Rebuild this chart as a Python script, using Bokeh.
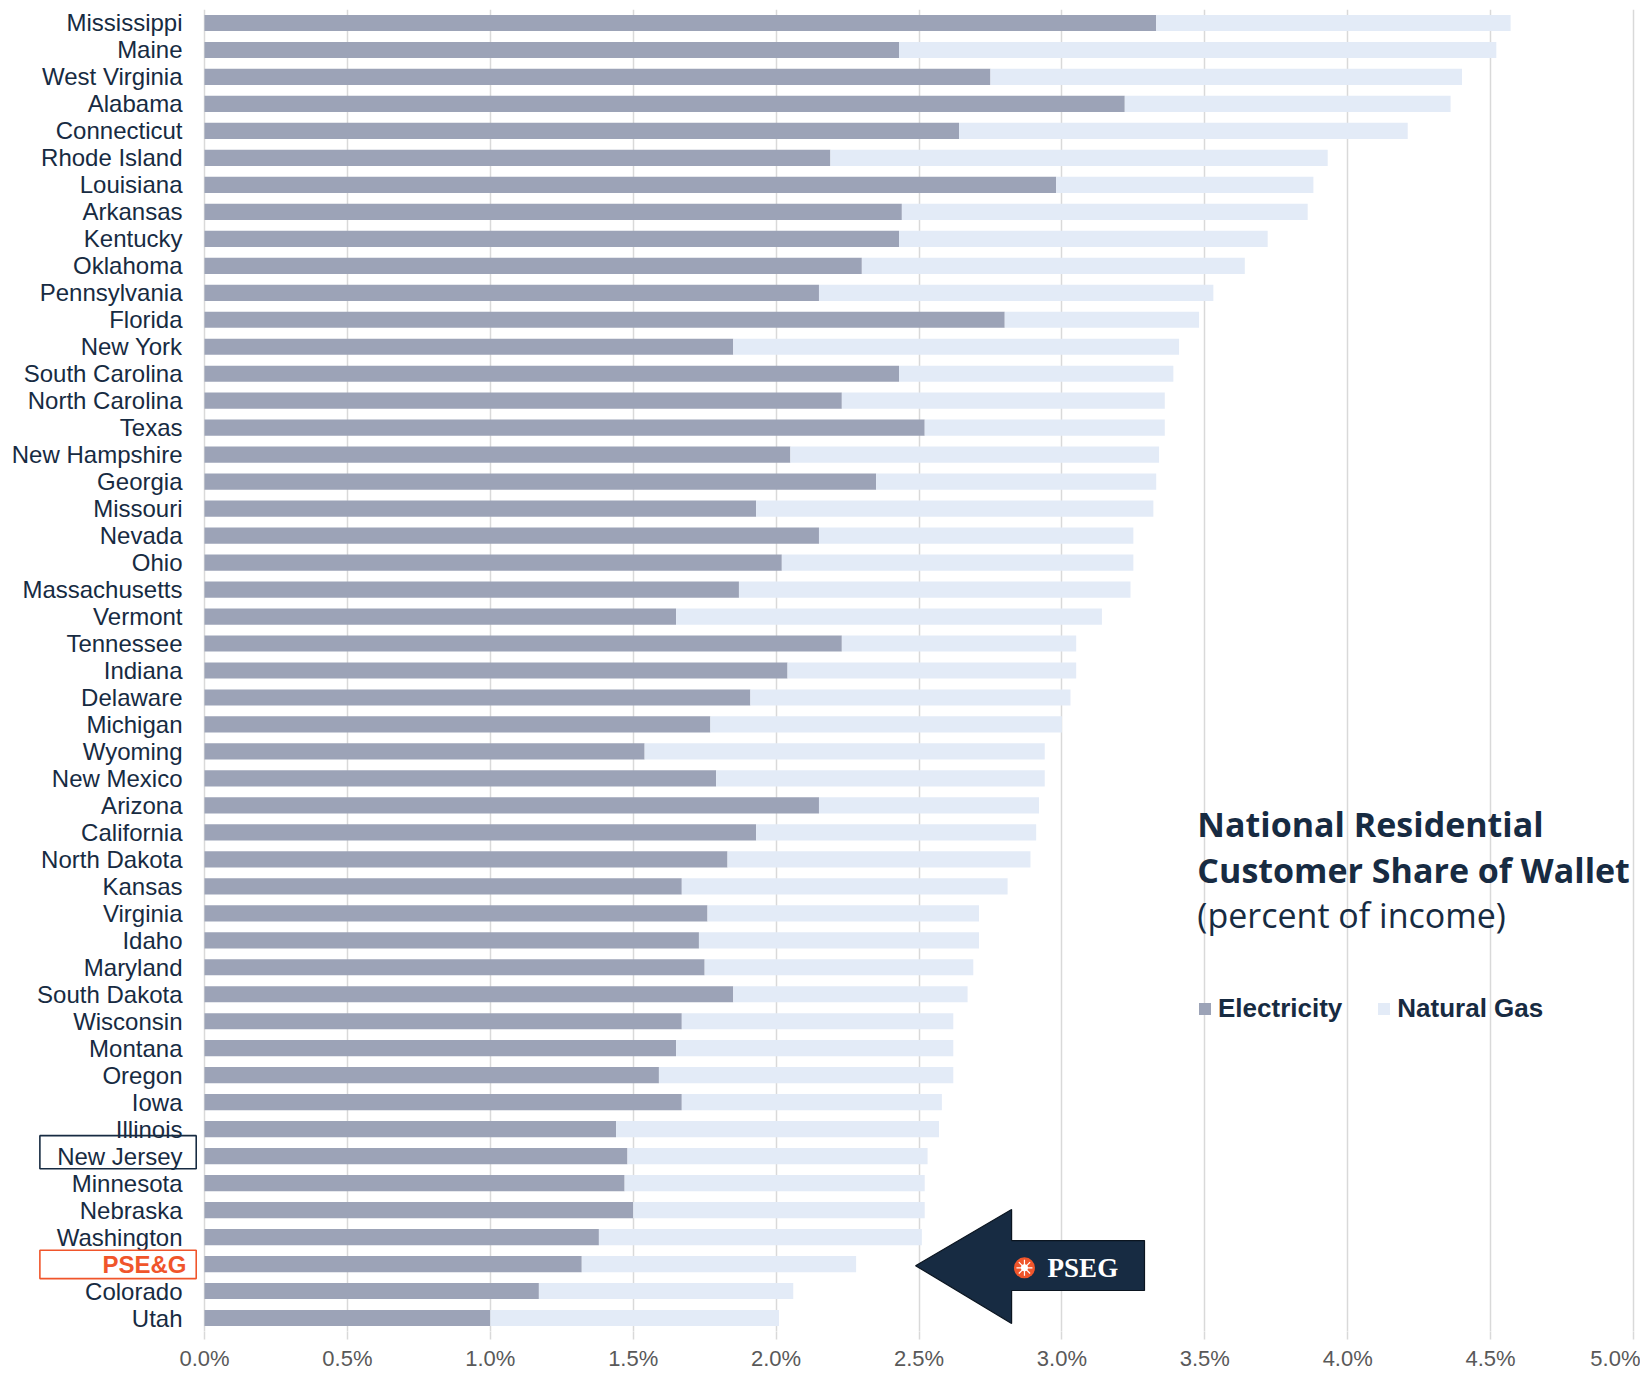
from bokeh.plotting import figure
from bokeh.models import (FactorRange, Range1d, FixedTicker, PrintfTickFormatter,
                          Legend, LegendItem, Label, BoxAnnotation, PolyAnnotation, ColumnDataSource)
from bokeh.core.properties import value
from bokeh.embed import file_html
from bokeh.resources import INLINE

# ---------------- data (percent of income) ----------------
states = ["Mississippi", "Maine", "West Virginia", "Alabama", "Connecticut", "Rhode Island",
          "Louisiana", "Arkansas", "Kentucky", "Oklahoma", "Pennsylvania", "Florida",
          "New York", "South Carolina", "North Carolina", "Texas", "New Hampshire", "Georgia",
          "Missouri", "Nevada", "Ohio", "Massachusetts", "Vermont", "Tennessee", "Indiana",
          "Delaware", "Michigan", "Wyoming", "New Mexico", "Arizona", "California",
          "North Dakota", "Kansas", "Virginia", "Idaho", "Maryland", "South Dakota",
          "Wisconsin", "Montana", "Oregon", "Iowa", "Illinois", "New Jersey", "Minnesota",
          "Nebraska", "Washington", "PSE&G", "Colorado", "Utah"]

electricity = [3.33, 2.43, 2.75, 3.22, 2.64, 2.19, 2.98, 2.44, 2.43, 2.30, 2.15, 2.80,
               1.85, 2.43, 2.23, 2.52, 2.05, 2.35, 1.93, 2.15, 2.02, 1.87, 1.65, 2.23, 2.04,
               1.91, 1.77, 1.54, 1.79, 2.15, 1.93, 1.83, 1.67, 1.76, 1.73, 1.75, 1.85,
               1.67, 1.65, 1.59, 1.67, 1.44, 1.48, 1.47, 1.50, 1.38, 1.32, 1.17, 1.00]

natural_gas = [1.24, 2.09, 1.65, 1.14, 1.57, 1.74, 0.90, 1.42, 1.29, 1.34, 1.38, 0.68,
               1.56, 0.96, 1.13, 0.84, 1.29, 0.98, 1.39, 1.10, 1.23, 1.37, 1.49, 0.82, 1.01,
               1.12, 1.23, 1.40, 1.15, 0.77, 0.98, 1.06, 1.14, 0.95, 0.98, 0.94, 0.82,
               0.95, 0.97, 1.03, 0.91, 1.13, 1.05, 1.05, 1.02, 1.13, 0.96, 0.89, 1.01]

x_ticks = [0.0, 0.5, 1.0, 1.5, 2.0, 2.5, 3.0, 3.5, 4.0, 4.5, 5.0]
series_names = ["Electricity", "Natural Gas"]
highlight = "PSE&G"
boxed = "New Jersey"

# ---------------- styles ----------------
NAVY = "#172B42"
ELEC = "#9CA3B7"
GAS = "#E3EBF7"
ORANGE = "#F0552B"
GRID = "#D9D9D9"

label_color = [ORANGE if s == highlight else NAVY for s in states]
label_style = ["bold" if s == highlight else "normal" for s in states]
label_dx = [4 if s == highlight else 0 for s in states]

src = ColumnDataSource(dict(state=states, electricity=electricity, natural_gas=natural_gas,
                            label_color=label_color, label_style=label_style, label_dx=label_dx))

p = figure(width=1640, height=1373,
           y_range=FactorRange(factors=states[::-1]),
           x_range=Range1d(-0.7138, 5.0245),
           y_axis_location=None,
           output_backend="svg", toolbar_location=None,
           min_border_left=0, min_border_right=0, min_border_top=9, min_border_bottom=40)

renderers = p.hbar_stack(["electricity", "natural_gas"], y="state", height=0.6,
                         fill_color=[ELEC, GAS], line_color=None, source=src)

# category labels (drawn on the chart's own categorical scale)
p.text(x=-0.077, y="state", text="state", source=src, x_offset="label_dx",
       text_align="right", text_baseline="middle",
       text_font=value("Liberation Sans"), text_font_size="24px",
       text_color="label_color", text_font_style="label_style")

p.outline_line_color = None
p.ygrid.grid_line_color = None

ticker = FixedTicker(ticks=x_ticks)
p.xaxis.ticker = ticker
p.xgrid.ticker = ticker
p.xgrid.grid_line_color = GRID
p.xgrid.grid_line_width = 1.5

p.xaxis.formatter = PrintfTickFormatter(format="%.1f%%")
p.xaxis.axis_line_color = None
p.xaxis.major_tick_line_color = GRID
p.xaxis.major_tick_line_width = 1.5
p.xaxis.major_tick_in = 0
p.xaxis.major_tick_out = 8
p.xaxis.minor_tick_line_color = None
p.xaxis.major_label_standoff = 6
p.xaxis.major_label_text_font = "Liberation Sans"
p.xaxis.major_label_text_font_size = "22px"
p.xaxis.major_label_text_color = "#595959"

# boxes around New Jersey and PSE&G
p.add_layout(BoxAnnotation(left=-0.576, right=-0.029, bottom=6.03, top=7.26,
                           fill_alpha=0, line_color=NAVY, line_alpha=1, line_width=1.6,
                           level="overlay"))
p.add_layout(BoxAnnotation(left=-0.576, right=-0.029, bottom=1.96, top=3.01,
                           fill_alpha=0, line_color=ORANGE, line_alpha=1, line_width=1.6,
                           level="overlay"))

# arrow pointing at PSE&G
p.add_layout(PolyAnnotation(xs=[2.488, 2.824, 2.824, 3.289, 3.289, 2.824, 2.824],
                            ys=[2.44, 4.52, 3.37, 3.37, 1.52, 1.52, 0.30],
                            fill_color=NAVY, fill_alpha=1, line_color="#0B1520",
                            line_alpha=1, line_width=1.2))
p.scatter(x=[2.869], y=[2.36], marker="circle", size=21, fill_color=ORANGE, line_color=None, level="overlay")
p.scatter(x=[2.869], y=[2.36], marker="asterisk", size=16, line_color="white", line_width=1.2, level="overlay")
p.scatter(x=[2.869], y=[2.36], marker="circle", size=7, fill_color="white", line_color=None, level="overlay")
p.add_layout(Label(x=2.950, y=2.36, text="PSEG", text_align="left", text_baseline="middle",
                   text_font="Liberation Serif", text_font_style="bold", text_font_size="27px",
                   text_color="white"))

# title block
p.add_layout(Label(x=3.474, y=18.82, text="National Residential", text_align="left",
                   text_baseline="middle", text_font="Open Sans", text_font_style="bold",
                   text_font_size="34px", text_color=NAVY))
p.add_layout(Label(x=3.474, y=17.12, text="Customer Share of Wallet", text_align="left",
                   text_baseline="middle", text_font="Open Sans", text_font_style="bold",
                   text_font_size="34px", text_color=NAVY))
p.add_layout(Label(x=3.474, y=15.42, text="(percent of income)", text_align="left",
                   text_baseline="middle", text_font="Open Sans", text_font_style="normal",
                   text_font_size="34px", text_color=NAVY))

# legend
legend = Legend(items=[LegendItem(label=series_names[0], renderers=[renderers[0]]),
                       LegendItem(label=series_names[1], renderers=[renderers[1]])],
                location=(1197, 307), orientation="horizontal",
                label_text_font="Liberation Sans", label_text_font_style="bold",
                label_text_font_size="26px", label_text_color=NAVY,
                background_fill_alpha=0, border_line_alpha=0, padding=0, margin=0,
                spacing=34, label_standoff=6, glyph_width=15, glyph_height=15)
p.add_layout(legend)

open("out.html", "w").write(file_html(p, INLINE))
